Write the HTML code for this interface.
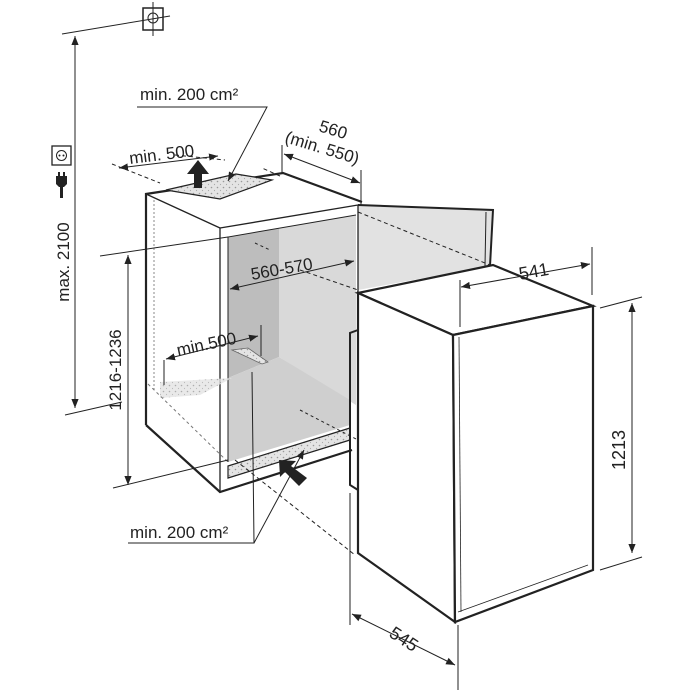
<!DOCTYPE html>
<html><head><style>html,body{margin:0;padding:0;background:#fff}svg{display:block}text{font-family:"Liberation Sans",sans-serif;fill:#222}</style></head>
<body>
<svg width="700" height="700" viewBox="0 0 700 700" xmlns="http://www.w3.org/2000/svg">
<defs>
<marker id="a" viewBox="0 0 10 10" refX="10" refY="5" markerWidth="9" markerHeight="9" orient="auto-start-reverse" markerUnits="userSpaceOnUse"><path d="M0,1 L10,5 L0,9 Z" fill="#222"/></marker>
<pattern id="dots" width="6" height="6" patternUnits="userSpaceOnUse"><rect width="6" height="6" fill="#e4e4e4"/><circle cx="1.5" cy="1.5" r="0.8" fill="#999"/><circle cx="4.5" cy="4.5" r="0.6" fill="#aaa"/></pattern>
</defs>
<g stroke="#222" fill="none" stroke-width="1">
<line x1="62" y1="34" x2="170" y2="16"/>
<rect x="143" y="8" width="20" height="22" stroke-width="1.5"/>
<circle cx="153" cy="18" r="5"/>
<line x1="153" y1="2" x2="153" y2="36"/>
<line x1="75" y1="36" x2="75" y2="408" marker-start="url(#a)" marker-end="url(#a)"/>
<line x1="65" y1="415" x2="122" y2="402"/>
<rect x="52" y="146" width="19" height="19" stroke-width="1.3"/>
<circle cx="61.5" cy="155.5" r="5"/>
</g>
<circle cx="59.5" cy="155.5" r="1" fill="#222"/><circle cx="63.5" cy="155.5" r="1" fill="#222"/>
<path d="M56,176 h11 v8 l-3,3 h-5 l-3,-3z" fill="#222"/>
<rect x="58" y="172" width="2" height="5" fill="#222"/><rect x="63" y="172" width="2" height="5" fill="#222"/>
<rect x="60" y="186" width="3" height="12" fill="#222"/>
<text x="0" y="0" font-size="17" transform="translate(69,262) rotate(-90)" text-anchor="middle">max. 2100</text>

<polygon points="228,237 279,228 279,357 228,378" fill="#bdbdbd"/>
<polygon points="279,228 356,215 356,405 279,357" fill="#d9d9d9"/>
<polygon points="228,378 279,357 350,400 350,425 228,462" fill="#cfcfcf"/>
<polygon points="358,205 493,210 490,266 358,290" fill="#e2e2e2"/>
<polyline points="358,205 493,210 490,266" fill="none" stroke="#222" stroke-width="2"/>
<line x1="486" y1="212" x2="485" y2="266" stroke="#222"/>

<g stroke="#222" fill="none">
<polyline points="146,425 146,194 283,173 362,202" stroke-width="2.2"/>
<line x1="146" y1="194" x2="220" y2="228" stroke-width="1.3"/>
<polyline points="220,228 358,205" stroke-width="1.3"/>
<polyline points="146,425 220,492 352,450" stroke-width="2.2"/>
<line x1="220" y1="228" x2="220" y2="492" stroke-width="1.3"/>
<line x1="358" y1="205" x2="358" y2="330" stroke-width="1.3"/>
<polyline points="228,462 228,237 356,215" stroke-width="1"/>
<line x1="154" y1="200" x2="154" y2="390" stroke-dasharray="2,2" stroke="#888"/>
<polygon points="166,190 220,199 272,180 236,174" fill="url(#dots)" stroke-width="1.2"/>
<polygon points="228,466 350,428 350,440 228,478" fill="url(#dots)" stroke-width="1.2"/>
<polygon points="232,350 262,364 268,362 248,348" fill="url(#dots)" stroke="#666" stroke-width="0.8"/>
<polygon points="160,382 232,378 200,395 160,398" fill="url(#dots)" stroke="none" opacity="0.8"/>
<line x1="148" y1="384" x2="228" y2="462" stroke-dasharray="3,3" stroke="#777"/>
<line x1="112" y1="164" x2="160" y2="183" stroke-dasharray="4,3"/>
<line x1="280" y1="176" x2="262" y2="168" stroke-dasharray="4,3"/>
<line x1="175" y1="155" x2="225" y2="160" stroke-dasharray="4,3"/>
<line x1="358" y1="212" x2="490" y2="265" stroke-dasharray="4,3"/>
<line x1="300" y1="270" x2="358" y2="290" stroke-dasharray="4,3"/>
<line x1="255" y1="243" x2="270" y2="250" stroke-dasharray="3,3"/>
<line x1="235" y1="460" x2="355" y2="555" stroke-dasharray="4,3"/>
<line x1="300" y1="410" x2="358" y2="440" stroke-dasharray="3,3"/>
<polygon points="358,293 493,265 593,306 453,335" fill="#fff" stroke-width="2.2"/>
<polygon points="358,293 453,335 455,622 358,553" fill="#fff" stroke-width="2.2"/>
<polygon points="453,335 593,306 593,570 455,622" fill="#fff" stroke-width="2.2"/>
<line x1="459" y1="337" x2="461" y2="612" stroke-width="0.8"/>
<line x1="458" y1="612" x2="588" y2="565" stroke-width="0.8"/>
<polyline points="358,330 350,333 350,485 358,490" stroke-width="2"/>
<line x1="461" y1="287" x2="590" y2="264" marker-start="url(#a)" marker-end="url(#a)"/>
<line x1="460" y1="280" x2="460" y2="327"/>
<line x1="592" y1="247" x2="592" y2="295"/>
<line x1="632" y1="303" x2="632" y2="553" marker-start="url(#a)" marker-end="url(#a)"/>
<line x1="600" y1="308" x2="642" y2="297"/>
<line x1="600" y1="570" x2="642" y2="557"/>
<line x1="352" y1="614" x2="455" y2="665" marker-start="url(#a)" marker-end="url(#a)"/>
<line x1="350" y1="493" x2="350" y2="625"/>
<line x1="458" y1="625" x2="458" y2="690"/>
<line x1="128" y1="255" x2="128" y2="485" marker-start="url(#a)" marker-end="url(#a)"/>
<line x1="100" y1="256" x2="228" y2="237"/>
<line x1="113" y1="488" x2="228" y2="460"/>
<line x1="230" y1="289" x2="354" y2="261" marker-start="url(#a)" marker-end="url(#a)"/>
<line x1="166" y1="359" x2="258" y2="336" marker-start="url(#a)" marker-end="url(#a)"/>
<line x1="164" y1="360" x2="164" y2="385"/>
<line x1="261" y1="325" x2="261" y2="356"/>
<line x1="119" y1="168" x2="218" y2="156" marker-start="url(#a)" marker-end="url(#a)"/>
<line x1="284" y1="154" x2="360" y2="183" marker-start="url(#a)" marker-end="url(#a)"/>
<line x1="282" y1="145" x2="282" y2="174"/>
<line x1="361" y1="170" x2="361" y2="205"/>
<polyline points="137,107 267,107 228,181" marker-end="url(#a)"/>
<polyline points="128,543 254,543 252,372" />
<line x1="254" y1="543" x2="304" y2="450" marker-end="url(#a)"/>
</g>
<polygon points="194,188 202,188 202,174 209,174 198,160 187,174 194,174" fill="#222"/>
<polygon points="307,478 299,486 285,472 280,477 279,460 296,461 291,466" fill="#222"/>

<g font-size="17">
<text x="140" y="100">min. 200 cm²</text>
<text transform="translate(130,164) rotate(-7)">min. 500</text>
<text transform="translate(318,131) rotate(17)">560</text>
<text transform="translate(284,142) rotate(17)">(min. 550)</text>
<text transform="translate(252,280) rotate(-10)">560-570</text>
<text transform="translate(178,356) rotate(-12)">min.500</text>
<text x="130" y="538">min. 200 cm²</text>
<text transform="translate(520,280) rotate(-10)" font-size="18">541</text>
<text transform="translate(625,450) rotate(-90)" text-anchor="middle" font-size="18">1213</text>
<text transform="translate(388,636) rotate(33)" font-size="18">545</text>
<text transform="translate(121,370) rotate(-90)" text-anchor="middle">1216-1236</text>
</g>
</svg>
</body></html>
